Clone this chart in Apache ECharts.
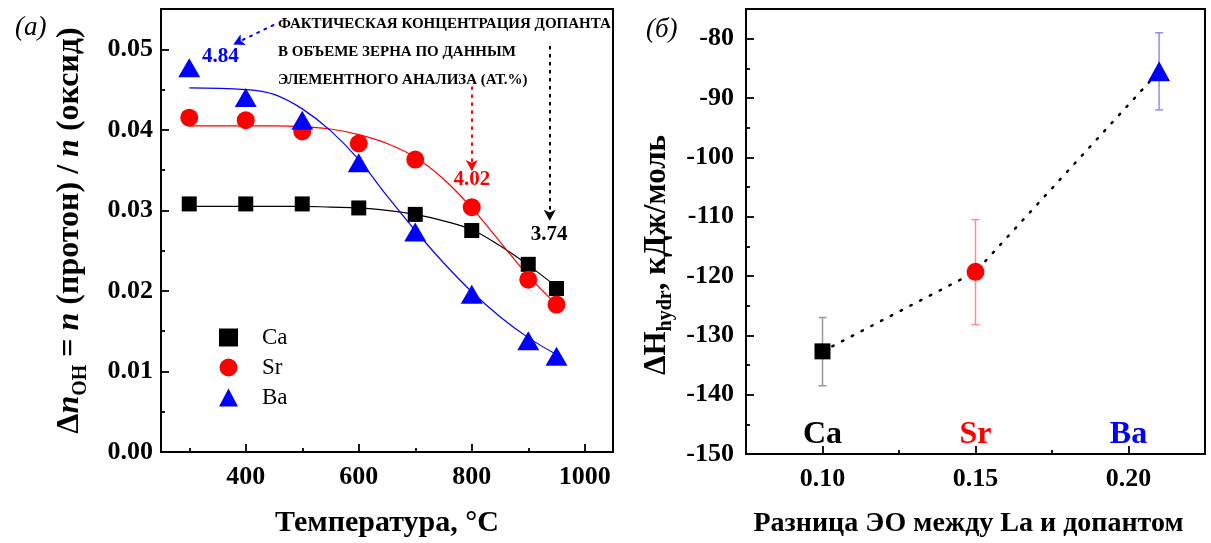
<!DOCTYPE html>
<html>
<head>
<meta charset="utf-8">
<script src="https://cdn.jsdelivr.net/npm/echarts@6/dist/echarts.min.js"></script>
<style>html,body{margin:0;padding:0;background:#fff;}#c{width:1211px;height:543px;}</style>
</head>
<body>
<div id="c"></div>
<script>
// ---- Panel (а): proton concentration vs temperature ----
const temps = [300, 400, 500, 600, 700, 800, 900, 950];
const caVals = [0.0308, 0.0308, 0.0308, 0.0303, 0.0295, 0.0275, 0.0233, 0.0203];
const srVals = [0.0415, 0.0412, 0.0398, 0.0383, 0.0363, 0.0304, 0.0214, 0.0183];
const baVals = [0.0477, 0.0440, 0.0412, 0.0359, 0.0273, 0.0196, 0.0138, 0.0119];
// fitted curves
const fitTemps = [300, 400, 450, 500, 550, 600, 650, 700, 750, 800, 850, 900, 950];
const caFit = [0.0305, 0.0305, 0.0305, 0.0305, 0.0304, 0.0303, 0.0300, 0.0295, 0.0287, 0.0276, 0.0256, 0.0232, 0.0205];
const srFit = [0.0405, 0.0405, 0.0405, 0.0404, 0.0401, 0.0394, 0.0383, 0.0366, 0.0339, 0.0303, 0.0261, 0.0219, 0.0183];
const baFit = [0.0452, 0.0450, 0.0444, 0.0426, 0.0399, 0.0363, 0.0318, 0.0275, 0.0235, 0.0199, 0.0168, 0.0142, 0.0121];
const xTicksA = [400, 600, 800, 1000];
const xMinorA = [300, 500, 700, 900];
const yTicksA = [0, 0.01, 0.02, 0.03, 0.04, 0.05];
const yMinorA = [0.005, 0.015, 0.025, 0.035, 0.045];
// annotations (label, temperature, value)
const noteText = ['ФАКТИЧЕСКАЯ КОНЦЕНТРАЦИЯ ДОПАНТА', 'В ОБЪЕМЕ ЗЕРНА ПО ДАННЫМ', 'ЭЛЕМЕНТНОГО АНАЛИЗА (АТ.%)'];
const noteAnchor = [457, 0.0497];
const concLabels = ['4.84', '4.02', '3.74'];
const concLabelPos = [[355, 0.0491], [800, 0.0338], [937, 0.0270]];
const arrowBa = [[449, 0.0530], [378, 0.0506]];
const arrowSr = [[800, 0.0453], [800, 0.0349]];
const arrowCa = [[938, 0.0503], [938, 0.0287]];

// ---- Panel (б): hydration enthalpy vs EN difference ----
const eoDiff = [0.10, 0.15, 0.21];
const dH = [-132.7, -119.3, -85.5];
const dHLow = [-138.5, -128.2, -92.0];
const dHHigh = [-127.0, -110.5, -79.0];
const dopants = ['Ca', 'Sr', 'Ba'];
const dopantLabelX = [0.10, 0.15, 0.20];
const dopantLabelY = -146.8;
const xTicksB = [0.10, 0.15, 0.20];
const xMinorB = [0.125, 0.175];
const yTicksB = [-150, -140, -130, -120, -110, -100, -90, -80];
const yMinorB = [-145, -135, -125, -115, -105, -95, -85];

const FONT = 'Liberation Serif';
const BLACK = '#000000', RED = '#ff0000', BLUE = '#0000ff';
const errColors = ['#999999', '#ff8c8c', '#8c8cff'];
const dopColors = [BLACK, RED, BLUE];

const zip = (a, b) => a.map((v, i) => [v, b[i]]);
const tickFont = { fontFamily: FONT, fontWeight: 'bold', fontSize: 26, color: BLACK };
const titleFont = { fontFamily: FONT, fontWeight: 'bold', fontSize: 30, color: BLACK };

function mainAxis(opts) {
  return Object.assign({
    type: 'value',
    axisLine: { show: true, lineStyle: { color: BLACK, width: 2 } },
    splitLine: { show: false },
    nameTextStyle: titleFont
  }, opts);
}
function minorAxis(opts, vals) {
  return Object.assign({
    type: 'value',
    axisLine: { show: false },
    axisTick: { show: true, inside: true, length: 4, customValues: vals, lineStyle: { color: BLACK, width: 1.8 } },
    axisLabel: { show: false },
    splitLine: { show: false }
  }, opts);
}
function majorTicks(vals) {
  return { show: true, inside: true, length: 8, customValues: vals, lineStyle: { color: BLACK, width: 1.8 } };
}
function arrowLine(pts, color) {
  return {
    silent: true, symbol: ['none', 'arrow'], symbolSize: [9, 11],
    label: { show: false },
    lineStyle: { type: [2, 6], width: 2, color: color, cap: 'round', opacity: 1 },
    data: [[{ coord: pts[0] }, { coord: pts[1] }]]
  };
}

const option = {
  animation: false,
  backgroundColor: '#ffffff',
  title: [
    { text: '(а)', left: 10, top: 9, textStyle: { fontFamily: FONT, fontStyle: 'italic', fontWeight: 'normal', fontSize: 27, color: BLACK } },
    { text: '(б)', left: 641, top: 11, textStyle: { fontFamily: FONT, fontStyle: 'italic', fontWeight: 'normal', fontSize: 27, color: BLACK } }
  ],
  legend: {
    data: ['Ca', 'Sr', 'Ba'],
    orient: 'vertical', left: 214, top: 321,
    itemWidth: 19, itemHeight: 18, itemGap: 7,
    textStyle: { fontFamily: FONT, fontSize: 23, color: BLACK, padding: [0, 0, 0, 19] },
    selectedMode: false
  },
  grid: [
    { left: 161, top: 9, width: 452, height: 444, show: true, borderColor: BLACK, borderWidth: 2, containLabel: false },
    { left: 746, top: 9, width: 459, height: 445, show: true, borderColor: BLACK, borderWidth: 2, containLabel: false }
  ],
  xAxis: [
    mainAxis({ gridIndex: 0, min: 250, max: 1050, position: 'bottom',
      axisTick: majorTicks(xTicksA),
      axisLabel: { customValues: xTicksA, margin: 12, formatter: v => String(v), ...tickFont },
      name: 'Температура, °C', nameLocation: 'middle', nameGap: 56 }),
    minorAxis({ gridIndex: 0, min: 250, max: 1050, position: 'bottom' }, xMinorA),
    mainAxis({ gridIndex: 1, min: 0.075, max: 0.225, position: 'bottom',
      axisTick: majorTicks(xTicksB),
      axisLabel: { customValues: xTicksB, margin: 12, formatter: v => v.toFixed(2), ...tickFont },
      name: 'Разница ЭО между La и допантом', nameLocation: 'middle', nameGap: 56,
      nameTextStyle: { fontFamily: FONT, fontWeight: 'bold', fontSize: 28, color: BLACK, padding: [0, 14, 0, 0] } }),
    minorAxis({ gridIndex: 1, min: 0.075, max: 0.225, position: 'bottom' }, xMinorB)
  ],
  yAxis: [
    mainAxis({ gridIndex: 0, min: 0, max: 0.055, position: 'left',
      axisTick: majorTicks(yTicksA),
      axisLabel: { customValues: yTicksA, margin: 8, formatter: v => v.toFixed(2), ...tickFont },
      name: '{t|Δ}{n|n}{s|OH}{t| = }{n|n}{t| (протон) / }{n|n}{t| (оксид)}',
      nameLocation: 'middle', nameRotate: 90, nameGap: 70,
      nameTextStyle: {
        rich: {
          t: { fontFamily: FONT, fontWeight: 'bold', fontSize: 32, lineHeight: 42, color: BLACK },
          n: { fontFamily: FONT, fontWeight: 'bold', fontStyle: 'italic', fontSize: 32, lineHeight: 42, color: BLACK },
          s: { fontFamily: FONT, fontWeight: 'bold', fontSize: 20, lineHeight: 20, verticalAlign: 'bottom', color: BLACK }
        }
      } }),
    minorAxis({ gridIndex: 0, min: 0, max: 0.055, position: 'left' }, yMinorA),
    mainAxis({ gridIndex: 1, min: -150, max: -75, position: 'left',
      axisTick: majorTicks(yTicksB),
      axisLabel: { customValues: yTicksB, margin: 12, ...tickFont },
      name: '{t|ΔH}{s|hydr}{t|, кДж/моль}',
      nameLocation: 'middle', nameRotate: 90, nameGap: 70,
      nameTextStyle: {
        padding: [0, 47, 0, 0],
        rich: {
          t: { fontFamily: FONT, fontWeight: 'bold', fontSize: 31, lineHeight: 38, color: BLACK },
          s: { fontFamily: FONT, fontWeight: 'bold', fontSize: 20, lineHeight: 20, verticalAlign: 'bottom', color: BLACK }
        }
      } }),
    minorAxis({ gridIndex: 1, min: -150, max: -75, position: 'left' }, yMinorB)
  ],
  series: [
    // fitted curves
    { type: 'line', xAxisIndex: 0, yAxisIndex: 0, data: zip(fitTemps, caFit), smooth: 0.4, showSymbol: false, silent: true,
      lineStyle: { color: BLACK, width: 1.2 }, z: 2 },
    { type: 'line', xAxisIndex: 0, yAxisIndex: 0, data: zip(fitTemps, srFit), smooth: 0.4, showSymbol: false, silent: true,
      lineStyle: { color: RED, width: 1.2 }, z: 2 },
    { type: 'line', xAxisIndex: 0, yAxisIndex: 0, data: zip(fitTemps, baFit), smooth: 0.4, showSymbol: false, silent: true,
      lineStyle: { color: BLUE, width: 1.2 }, z: 2 },
    // data points
    { name: 'Ca', type: 'scatter', xAxisIndex: 0, yAxisIndex: 0, data: zip(temps, caVals), symbol: 'rect', symbolSize: 15,
      itemStyle: { color: BLACK, opacity: 1 }, z: 4 },
    { name: 'Sr', type: 'scatter', xAxisIndex: 0, yAxisIndex: 0, data: zip(temps, srVals), symbol: 'circle', symbolSize: 18,
      itemStyle: { color: RED, opacity: 1 }, z: 4 },
    { name: 'Ba', type: 'scatter', xAxisIndex: 0, yAxisIndex: 0, data: zip(temps, baVals), symbol: 'triangle', symbolSize: [22, 19],
      itemStyle: { color: BLUE, opacity: 1 }, z: 5 },
    // annotation text + arrows
    { type: 'scatter', xAxisIndex: 0, yAxisIndex: 0, symbolSize: 0, silent: true, z: 6,
      itemStyle: { opacity: 1 },
      data: [{ value: noteAnchor }],
      label: { show: true, position: 'right', distance: 0, formatter: noteText.join('\n'),
        fontFamily: FONT, fontWeight: 'bold', fontSize: 15, lineHeight: 28, color: BLACK, align: 'left' },
      markLine: arrowLine(arrowBa, BLUE) },
    { type: 'scatter', xAxisIndex: 0, yAxisIndex: 0, symbolSize: 0, silent: true, z: 6,
      itemStyle: { opacity: 1 },
      data: concLabelPos.map((p, i) => ({ value: p, label: { color: dopColors[2 - i], formatter: concLabels[i] } })),
      label: { show: true, position: 'inside', fontFamily: FONT, fontWeight: 'bold', fontSize: 21 },
      markLine: arrowLine(arrowSr, RED) },
    { type: 'scatter', xAxisIndex: 0, yAxisIndex: 0, symbolSize: 0, silent: true, z: 6, data: [],
      markLine: arrowLine(arrowCa, BLACK) },

    // panel (б)
    { type: 'custom', xAxisIndex: 2, yAxisIndex: 2, silent: true, z: 1,
      data: eoDiff.map((x, i) => ({ value: [x, dHLow[i], dHHigh[i]], itemStyle: { color: errColors[i] } })),
      encode: { x: 0, y: [1, 2] },
      renderItem: function (params, api) {
        const x = api.value(0);
        const p1 = api.coord([x, api.value(1)]);
        const p2 = api.coord([x, api.value(2)]);
        const c = api.visual('color');
        const w = 4;
        const st = { stroke: c, lineWidth: 1.5 };
        return { type: 'group', children: [
          { type: 'line', shape: { x1: p1[0], y1: p1[1], x2: p2[0], y2: p2[1] }, style: st },
          { type: 'line', shape: { x1: p1[0] - w, y1: p1[1], x2: p1[0] + w, y2: p1[1] }, style: st },
          { type: 'line', shape: { x1: p2[0] - w, y1: p2[1], x2: p2[0] + w, y2: p2[1] }, style: st }
        ] };
      } },
    { type: 'line', xAxisIndex: 2, yAxisIndex: 2, data: zip(eoDiff, dH), showSymbol: false, silent: true, z: 2,
      lineStyle: { color: BLACK, width: 2.5, type: [1.5, 9.5], cap: 'round' } },
    { type: 'scatter', xAxisIndex: 2, yAxisIndex: 2, silent: true, z: 4,
      itemStyle: { opacity: 1 },
      data: eoDiff.map((x, i) => ({
        value: [x, dH[i]],
        symbol: ['rect', 'circle', 'triangle'][i],
        symbolSize: [[16, 16], [18, 18], [22, 20]][i],
        itemStyle: { color: dopColors[i], opacity: 1 }
      })) },
    { type: 'scatter', xAxisIndex: 2, yAxisIndex: 2, symbolSize: 0, silent: true, z: 6,
      itemStyle: { opacity: 1 },
      data: dopants.map((d, i) => ({ value: [dopantLabelX[i], dopantLabelY], label: { formatter: d, color: dopColors[i] } })),
      label: { show: true, position: 'inside', fontFamily: FONT, fontWeight: 'bold', fontSize: 32 } }
  ]
};

const chart = echarts.init(document.getElementById('c'), null, { renderer: 'canvas' });
chart.setOption(option);
</script>
</body>
</html>
